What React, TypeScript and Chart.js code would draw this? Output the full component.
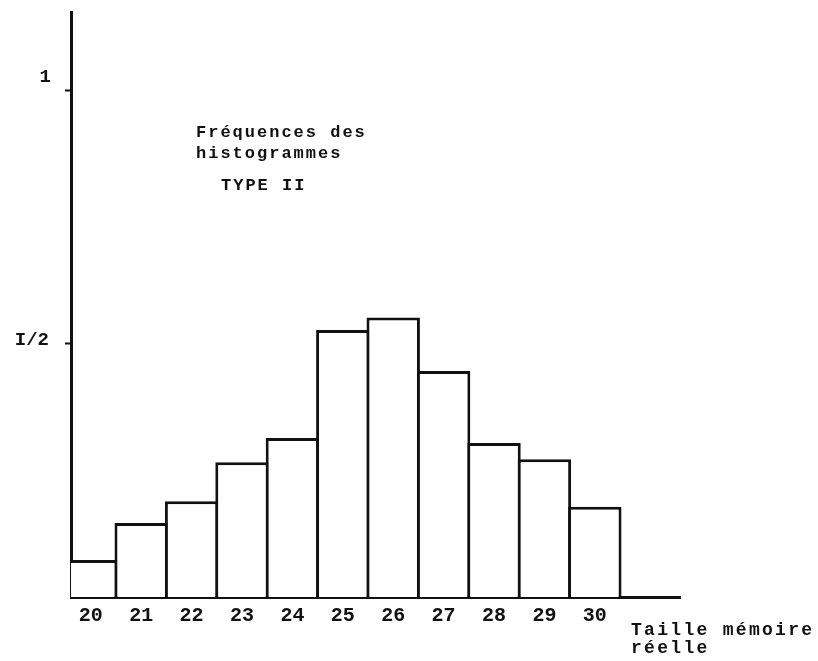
import React, { useEffect, useRef } from "react";
import { Chart, registerables } from "chart.js";

Chart.register(...registerables);

const categories = [20, 21, 22, 23, 24, 25, 26, 27, 28, 29, 30];
const frequencies = [0.073, 0.146, 0.189, 0.266, 0.314, 0.527, 0.552, 0.446, 0.304, 0.272, 0.178];
const yTickValues = [0.5, 1];
const yTickLabels = ["I/2", "1"];
const titleLines = ["Fréquences des", "histogrammes"];
const subtitle = "TYPE II";
const xAxisTitle = ["Taille mémoire", "réelle"];

const FONT = "'Liberation Mono', 'DejaVu Sans Mono', monospace";

const textPlugin = {
  id: "typewriterText",
  afterDraw(chart: any) {
    const ctx = chart.ctx;
    const y = chart.scales.y;
    ctx.save();
    ctx.fillStyle = "#111";
    ctx.textBaseline = "alphabetic";
    ctx.textAlign = "left";
    ctx.font = `bold 17px ${FONT}`;
    (ctx as any).letterSpacing = "2px";
    ctx.fillText(titleLines[0], 196, 137);
    ctx.fillText(titleLines[1], 196, 158);
    ctx.fillText(subtitle, 221, 190);
    ctx.font = `bold 18px ${FONT}`;
    (ctx as any).letterSpacing = "2.3px";
    ctx.fillText(xAxisTitle[0], 631, 635);
    ctx.fillText(xAxisTitle[1], 631, 653);
    // y tick labels, placed from the y scale
    ctx.font = `bold 19px ${FONT}`;
    (ctx as any).letterSpacing = "0px";
    ctx.textAlign = "right";
    ctx.textBaseline = "middle";
    ctx.fillText(yTickLabels[1], 51, y.getPixelForValue(yTickValues[1]) - 13);
    ctx.fillText(yTickLabels[0], 49, y.getPixelForValue(yTickValues[0]) - 4);
    ctx.restore();
  },
};

export default function App() {
  const ref = useRef<HTMLCanvasElement | null>(null);
  useEffect(() => {
    if (!ref.current) return;
    const chart = new Chart(ref.current, {
      type: "bar",
      data: {
        datasets: [
          {
            data: categories.map((c, i) => ({ x: c, y: frequencies[i] })) as any,
            backgroundColor: "#ffffff",
            borderColor: "#111111",
            borderWidth: 3,
            barPercentage: 1.06,
            categoryPercentage: 1,
            clip: { left: 0, top: false, right: false, bottom: false } as any,
          },
        ],
      },
      options: {
        animation: false,
        responsive: false,
        maintainAspectRatio: false,
        layout: { padding: { top: 12, right: 138, left: 0, bottom: 0 } },
        plugins: { legend: { display: false }, tooltip: { enabled: false }, title: { display: false } },
        scales: {
          x: {
            type: "linear",
            min: 19.607,
            max: 31.69,
            offset: false,
            z: 1,
            grid: { display: false, drawTicks: false, offset: false },
            border: { display: true, color: "#111", width: 3 },
            ticks: {
              color: "#111",
              font: { family: FONT, size: 20, weight: "bold" },
              padding: 7,
              maxRotation: 0,
              autoSkip: false,
              callback(value: any) {
                return String(value);
              },
            },
            afterBuildTicks(scale: any) {
              scale.ticks = categories.map((v) => ({ value: v }));
            },
            afterFit(scale: any) {
              scale.height = 64;
            },
          },
          y: {
            min: 0,
            max: 1.155,
            z: 1,
            grid: {
              display: true,
              drawOnChartArea: false,
              drawTicks: true,
              tickLength: 6,
              tickWidth: 2,
              color: "#111",
            },
            border: { display: true, color: "#111", width: 3 },
            ticks: { display: false },
            afterBuildTicks(scale: any) {
              scale.ticks = yTickValues.map((v) => ({ value: v }));
            },
            afterFit(scale: any) {
              scale.width = 71;
            },
          },
        },
      },
      plugins: [textPlugin],
    });
    return () => chart.destroy();
  }, []);
  return (
    <div style={{ position: "absolute", left: 0, top: 0, width: 818, height: 661, background: "#fff" }}>
      <canvas ref={ref} width={818} height={661} style={{ width: 818, height: 661, display: "block" }} />
    </div>
  );
}
